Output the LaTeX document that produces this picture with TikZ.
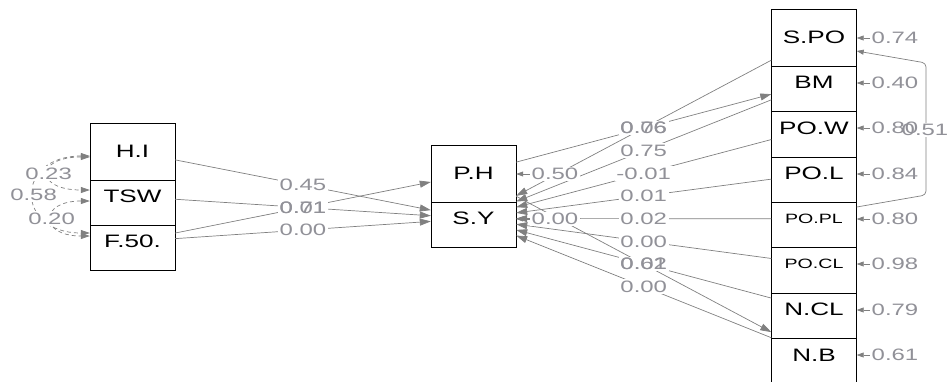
\documentclass[tikz,border=0pt]{standalone}
\usepackage{fontspec}
\setmainfont{Liberation Sans}
\usepackage{xcolor}
\usetikzlibrary{arrows.meta}
\definecolor{edgegray}{RGB}{128,128,128}
\definecolor{labgray}{RGB}{145,145,152}
\newcommand{\wide}[1]{\scalebox{1.45}[1]{#1}}

\begin{document}
\begin{tikzpicture}[x=1pt,y=-1pt,>={Triangle[length=11pt,width=7pt]},
  var/.style={draw,fill=white,minimum width=85pt,minimum height=57pt,inner sep=0pt,font=\fontsize{18}{20}\selectfont},
  smallvar/.style={var,font=\fontsize{13.5}{15}\selectfont},
  path/.style={->,edgegray,line width=0.7pt},
  cov/.style={<->,edgegray,line width=0.7pt,dash pattern=on 4pt off 3pt,>={Triangle[length=9pt,width=6pt]}},
  resid/.style={{Triangle[length=7pt,width=5pt]}-,edgegray,line width=0.7pt},
  lbl/.style={fill=white,text=labgray,inner sep=1.5pt,font=\fontsize{16.5}{18}\selectfont}]

\useasboundingbox (0,0) rectangle (950,381);

% boxes, lower ones first so the upper box sits on top
\node[var] (F50) at (132.5,241.5) {\wide{F.50.}};
\node[var] (TSW) at (132.5,196.5) {\wide{TSW}};
\node[var] (HI) at (132.5,151.5) {\wide{H.I}};

\node[var] (SY) at (473.5,218.5) {\wide{S.Y}};
\node[var] (PH) at (473.5,173.5) {\wide{P.H}};

\node[var] (NB) at (814,354.8) {\wide{N.B}};
\node[var] (NCL) at (814,309.5) {\wide{N.CL}};
\node[smallvar] (POCL) at (814,264.2) {\wide{PO.CL}};
\node[smallvar] (POPL) at (814,218.8) {\wide{PO.PL}};
\node[var] (POL) at (814,173.5) {\wide{PO.L}};
\node[var] (POW) at (814,128.2) {\wide{PO.W}};
\node[var] (BM) at (814,82.8) {\wide{BM}};
\node[var] (SPO) at (814,37.5) {\wide{S.PO}};

% covariances on the left
\draw[cov] ([yshift=-5.5pt]HI.west) .. controls +(-55,0) and +(-55,0) .. ([yshift=6.5pt]TSW.west) coordinate[midway] (cHT);
\draw[cov] ([yshift=-4.5pt]HI.west) .. controls +(-75,0) and +(-75,0) .. ([yshift=8.5pt]F50.west) coordinate[midway] (cHF);
\draw[cov] ([yshift=-4.5pt]TSW.west) .. controls +(-51,0) and +(-51,0) .. ([yshift=5.5pt]F50.west) coordinate[midway] (cTF);

% regressions
\draw[path] (HI) -- coordinate[midway] (mHI) (SY);
\draw[path] (TSW) -- coordinate[midway] (mTSW) (SY);
\draw[path] (F50) -- coordinate[midway] (mFP) (PH);
\draw[path] (F50) -- coordinate[midway] (mFS) (SY);

\draw[path] (PH) -- coordinate[midway] (mPB) (BM);
\draw[path] (SPO) -- coordinate[midway] (mSPO) (SY);
\draw[path] (BM) -- coordinate[midway] (mBM) (SY);
\draw[path] (POW) -- coordinate[midway] (mPOW) (SY);
\draw[path] (POL) -- coordinate[midway] (mPOL) (SY);
\draw[path] (POPL) -- coordinate[midway] (mPOPL) (SY);
\draw[path] (POCL) -- coordinate[midway] (mPOCL) (SY);
\draw[path] (NCL) -- coordinate[midway] (mNCL) (SY);
\draw[path] (PH) -- coordinate[midway] (mPN) (NB);
\draw[path] (NB) -- coordinate[midway] (mNB) (SY);

% covariance on the right
\draw[resid,rounded corners=4pt] ([yshift=-13.5pt]SPO.east) -- (926,63) -- (926,195) -- ([yshift=11.8pt]POPL.east);
\node[lbl] (c51) at (925,130) {\wide{0.51}};

% edge labels
\node[lbl] at (cHT) {\wide{0.23}};
\node[lbl] at (cHF) {\wide{0.58}};
\node[lbl] at (cTF) {\wide{0.20}};

\node[lbl] at (mHI) {\wide{0.45}};
\node[lbl] at (mTSW) {\wide{0.01}};
\node[lbl,fill=none] at (mFP) {\wide{0.71}};
\node[lbl] at (mFS) {\wide{0.00}};

\node[lbl] at (mPB) {\wide{0.76}};
\node[lbl,fill=none] at (mSPO) {\wide{0.06}};
\node[lbl] at (mBM) {\wide{0.75}};
\node[lbl] at (mPOW) {\wide{-0.01}};
\node[lbl] at (mPOL) {\wide{0.01}};
\node[lbl] at (mPOPL) {\wide{0.02}};
\node[lbl] at (mPOCL) {\wide{0.00}};
\node[lbl] at (mNCL) {\wide{0.62}};
\node[lbl,fill=none] at (mPN) {\wide{0.01}};
\node[lbl] at (mNB) {\wide{0.00}};

% residuals
\node[lbl,anchor=west] (rPH) at (530,174) {\wide{0.50}};
\draw[resid] (PH.east |- rPH.west) -- (rPH.west);
\node[lbl,anchor=west] (rSY) at (530,219) {\wide{0.00}};
\draw[resid] (SY.east |- rSY.west) -- (rSY.west);

\node[lbl,fill=none,anchor=west] (rSPO) at (870,38) {\wide{0.74}};
\draw[resid] (SPO.east |- rSPO.west) -- (rSPO.west);
\node[lbl,fill=none,anchor=west] (rBM) at (870,83) {\wide{0.40}};
\draw[resid] (BM.east |- rBM.west) -- (rBM.west);
\node[lbl,fill=none,anchor=west] (rPOW) at (870,128) {\wide{0.80}};
\draw[resid] (POW.east |- rPOW.west) -- (rPOW.west);
\node[lbl,fill=none,anchor=west] (rPOL) at (870,174) {\wide{0.84}};
\draw[resid] (POL.east |- rPOL.west) -- (rPOL.west);
\node[lbl,fill=none,anchor=west] (rPOPL) at (870,219) {\wide{0.80}};
\draw[resid] (POPL.east |- rPOPL.west) -- (rPOPL.west);
\node[lbl,fill=none,anchor=west] (rPOCL) at (870,264) {\wide{0.98}};
\draw[resid] (POCL.east |- rPOCL.west) -- (rPOCL.west);
\node[lbl,fill=none,anchor=west] (rNCL) at (870,310) {\wide{0.79}};
\draw[resid] (NCL.east |- rNCL.west) -- (rNCL.west);
\node[lbl,fill=none,anchor=west] (rNB) at (870,355) {\wide{0.61}};
\draw[resid] (NB.east |- rNB.west) -- (rNB.west);

\end{tikzpicture}
\end{document}
